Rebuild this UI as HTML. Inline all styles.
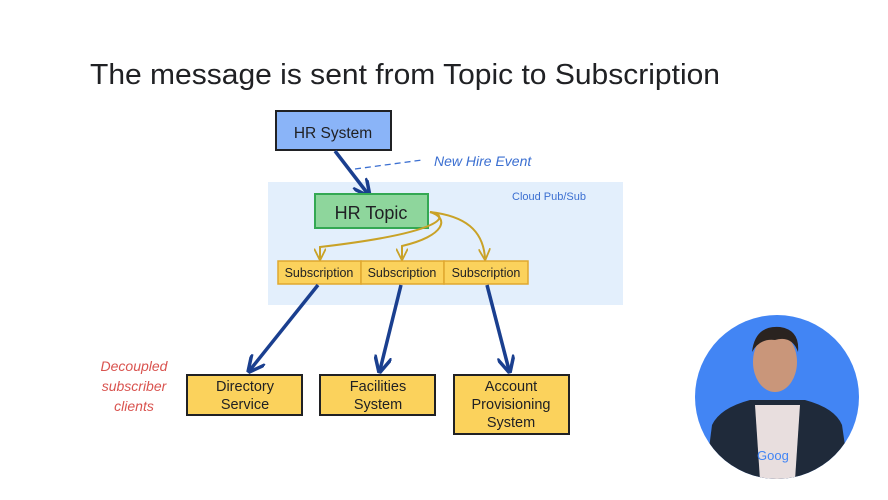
<!DOCTYPE html>
<html><head><style>
html,body{margin:0;padding:0;background:#fff;}
body{width:888px;height:495px;overflow:hidden;font-family:"Liberation Sans",sans-serif;}
</style></head><body>
<svg width="888" height="495" xmlns="http://www.w3.org/2000/svg" font-family="Liberation Sans, sans-serif">
<defs>
<marker id="b" viewBox="0 0 10 10" refX="8" refY="5" markerWidth="5" markerHeight="5" orient="auto"><path d="M0,0 L10,5 L0,10" fill="none" stroke="#1a3f8f" stroke-width="2"/></marker>
<marker id="y" viewBox="0 0 10 10" refX="8" refY="5" markerWidth="6" markerHeight="6" orient="auto"><path d="M0,0 L10,5 L0,10" fill="none" stroke="#c9a227" stroke-width="1.5"/></marker>
</defs>
<text x="90" y="84" font-size="29" fill="#202124" textLength="630" lengthAdjust="spacingAndGlyphs">The message is sent from Topic to Subscription</text>
<rect x="268" y="182" width="355" height="123" fill="#e3effc"/>
<text x="512" y="200" font-size="11" fill="#3b6fd1">Cloud Pub/Sub</text>
<rect x="276" y="111" width="115" height="39" fill="#8ab4f8" stroke="#202124" stroke-width="2"/>
<text x="333" y="138" font-size="15.5" text-anchor="middle" fill="#202124">HR System</text>
<line x1="355" y1="169" x2="422" y2="160" stroke="#3b6fd1" stroke-width="1.3" stroke-dasharray="6,4"/>
<text x="434" y="166" font-size="14" font-style="italic" fill="#3b6fd1">New Hire Event</text>
<line x1="335" y1="151" x2="368" y2="194" stroke="#1a3f8f" stroke-width="3.5" marker-end="url(#b)"/>
<rect x="315" y="194" width="113" height="34" fill="#8ed69c" stroke="#34a853" stroke-width="2"/>
<text x="371" y="219" font-size="18" text-anchor="middle" fill="#202124">HR Topic</text>
<g fill="none" stroke="#c9a227" stroke-width="2">
<path d="M430,212 C450,215 448,232 320,247 L320,258" marker-end="url(#y)"/>
<path d="M430,212 C450,218 445,236 402,246 L402,258" marker-end="url(#y)"/>
<path d="M430,212 C465,216 483,230 485,258" marker-end="url(#y)"/>
</g>
<g fill="#fbd25c" stroke="#e0a82e" stroke-width="1.5">
<rect x="278" y="261" width="83" height="23"/><rect x="361" y="261" width="83" height="23"/><rect x="444" y="261" width="84" height="23"/>
</g>
<g font-size="12.5" text-anchor="middle" fill="#202124">
<text x="319" y="277">Subscription</text><text x="402" y="277">Subscription</text><text x="486" y="277">Subscription</text>
</g>
<g stroke="#1a3f8f" stroke-width="3.5" marker-end="url(#b)">
<line x1="318" y1="285" x2="250" y2="370"/>
<line x1="401" y1="285" x2="380" y2="370"/>
<line x1="487" y1="285" x2="509" y2="370"/>
</g>
<g fill="#fbd25c" stroke="#202124" stroke-width="2">
<rect x="187" y="375" width="115" height="40"/><rect x="320" y="375" width="115" height="40"/><rect x="454" y="375" width="115" height="59"/>
</g>
<g font-size="14.5" text-anchor="middle" fill="#202124">
<text x="245" y="391">Directory</text><text x="245" y="409">Service</text>
<text x="378" y="391">Facilities</text><text x="378" y="409">System</text>
<text x="511" y="391">Account</text><text x="511" y="409">Provisioning</text><text x="511" y="427">System</text>
</g>
<g font-size="14" font-style="italic" text-anchor="middle" fill="#d9534f">
<text x="134" y="371">Decoupled</text><text x="134" y="391">subscriber</text><text x="134" y="411">clients</text>
</g>
<clipPath id="c"><circle cx="777" cy="397" r="82"/></clipPath>
<circle cx="777" cy="397" r="82" fill="#4285f4"/>
<g clip-path="url(#c)">
<path d="M705,480 L712,425 Q720,408 750,400 L805,400 Q835,408 842,425 L850,480Z" fill="#1f2a3a"/>
<path d="M755,405 L800,405 L795,480 L760,480Z" fill="#e8dede"/>
<ellipse cx="775" cy="362" rx="22" ry="30" fill="#c9967a"/>
<path d="M752,352 Q755,325 780,327 Q800,330 798,352 Q792,335 775,340 Q760,338 752,352Z" fill="#2a2320"/>
<text x="757" y="460" font-size="13" fill="#4285f4">Goog</text>
</g>
</svg>
</body></html>
